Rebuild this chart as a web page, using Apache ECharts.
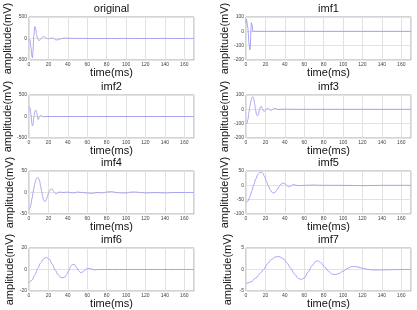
<!DOCTYPE html>
<html>
<head>
<meta charset="utf-8">
<script src="https://cdn.jsdelivr.net/npm/echarts@6/dist/echarts.min.js"></script>
<style>
  html, body { margin: 0; padding: 0; background: #fff; }
  #chart { width: 417px; height: 310px; }
</style>
</head>
<body>
<div id="chart"></div>
<script>
// [time(ms), amplitude(mV)]
const original = [[0,-10],[1,-30],[2,-200],[3,-420],[3.5,-450],[4,-320],[5,60],[6,280],[7,210],[8,70],[9,-10],[10,-45],[11,-40],[12,-10],[13,15],[14,35],[15,42],[16,38],[17,25],[18,10],[19,0],[20,-8],[22,5],[24,15],[26,0],[27,-30],[29,-35],[31,-20],[33,-5],[35,5],[38,10],[41,7],[45,3],[50,1],[60,2],[70,-2],[80,1],[90,0],[100,2],[110,-1],[120,1],[130,0],[140,2],[150,-1],[160,1],[170,0]];
const imf1 = [[0,60],[0.5,85],[1,80],[2,20],[3,-80],[4,-130],[4.5,-100],[5,0],[5.5,60],[6,70],[6.5,40],[7,0],[8,0],[170,0]];
const imf2 = [[0,230],[1,200],[2,50],[3,-170],[3.5,-220],[4,-200],[5,-20],[6,120],[7,150],[8,80],[9,-40],[9.5,-70],[10,-60],[11,0],[12,25],[13,10],[14,0],[16,-5],[18,0],[170,0]];
const imf3 = [[0,-100],[1,-98],[2,-70],[3,-20],[4,20],[5,55],[6,80],[7,88],[8,75],[9,35],[10,-10],[11,-40],[12,-46],[13,-30],[14,0],[15,18],[16,20],[17,5],[18,-10],[19,-15],[20,-8],[21,3],[22,7],[23,5],[24,0],[25,-6],[26,-7],[27,-3],[28,2],[29,6],[30,7],[31,5],[32,1],[33,-1],[35,0],[40,1],[50,0],[170,0]];
const imf4 = [[0,-39],[1,-36],[2,-28],[3,-15],[4,-2],[5,10],[6,21],[7,29],[8,34],[9,35],[10,33],[11,26],[12,15],[13,3],[14,-9],[15,-17],[16,-21],[17,-20],[18,-16],[19,-9],[20,-2],[21,3],[22,7],[23,8],[24,8],[25,5],[26,1],[27,-2],[28,-3],[29,-2],[30,0],[32,1],[35,0],[40,1],[45,-1],[50,1],[55,0],[60,-1],[65,-2],[70,0],[75,-1],[80,1],[85,2],[90,0],[95,-1],[100,-1],[105,1],[110,1],[115,0],[120,-1],[130,0],[140,-1],[150,0],[160,0],[170,0]];
const imf5 = [[0,-59],[2,-55],[4,-40],[6,-20],[8,2],[10,22],[12,37],[14,45],[15.5,46],[17,43],[19,32],[21,15],[23,-2],[25,-16],[27,-25],[28,-27],[30,-24],[32,-16],[34,-5],[36,4],[38,8],[40,6],[42,0],[44,-5],[46,-3],[48,2],[50,2],[52,0],[55,-1],[60,0],[70,1],[80,0],[100,0],[120,-1],[140,0],[170,0]];
const imf6 = [[0,-12.5],[3,-10],[6,-5],[9,1],[12,6],[15,10],[18,11.2],[21,9.5],[24,5],[27,-0.5],[30,-5],[33,-7.5],[35,-7.7],[37,-7],[39,-4.5],[41,-1],[43,3],[45,4.8],[47,4.5],[49,2],[51,-1],[53,-2.8],[55,-2.5],[57,-1],[59,0.5],[61,1],[63,0.8],[66,0],[68,-0.5],[71,0],[80,0],[170,0]];
const imf7 = [[0,-3.3],[5,-2.9],[10,-2],[15,-0.8],[18,0],[22,1.3],[26,2.3],[30,2.9],[34,3.0],[38,2.6],[42,1.6],[46,0.3],[50,-1.1],[54,-2.1],[57,-2.3],[60,-2.0],[64,-0.6],[68,0.9],[72,1.9],[74,2.0],[77,1.6],[81,0.6],[85,-0.4],[89,-1.1],[92,-1.2],[96,-0.9],[100,-0.4],[104,0.2],[108,0.6],[111,0.7],[115,0.6],[120,0.3],[125,0.05],[130,-0.1],[140,-0.1],[150,-0.05],[160,0],[170,0]];

const panelTitles = ['original', 'imf1', 'imf2', 'imf3', 'imf4', 'imf5', 'imf6', 'imf7'];
const panelData = [original, imf1, imf2, imf3, imf4, imf5, imf6, imf7];
const yMin = [-500, -200, -500, -200, -50, -100, -20, -5];
const yMax = [500, 100, 500, 100, 50, 50, 20, 5];
const yStep = [500, 100, 500, 100, 50, 50, 20, 5];
const xMax = 170, xStep = 20;

const colLeft = [29, 246];
const rowTop = [17, 95, 171, 248];
const plotW = 165, plotH = 43;
const FONT = '"Liberation Sans", Arial, sans-serif';
const LINE = '#9e9cf2';

const chart = echarts.init(document.getElementById('chart'), null, { renderer: 'canvas' });

const grid = [], xAxis = [], yAxis = [], series = [], graphic = [];
panelData.forEach((d, i) => {
  const left = colLeft[i % 2], top = rowTop[Math.floor(i / 2)];
  grid.push({ left, top, width: plotW, height: plotH, show: true, borderColor: '#a8a8a8', borderWidth: 1, backgroundColor: '#fff', outerBoundsMode: 'none' });
  xAxis.push({
    gridIndex: i, type: 'value', min: 0, max: xMax, interval: xStep,
    name: 'time(ms)', nameLocation: 'middle', nameGap: 6,
    nameTextStyle: { fontFamily: FONT, fontSize: 11, color: '#111', verticalAlign: 'top' },
    axisLine: { show: false }, axisTick: { show: false },
    axisLabel: { fontFamily: FONT, fontSize: 5, color: '#444', margin: 2, showMaxLabel: false },
    splitLine: { show: true, lineStyle: { color: '#e2e2e2', width: 1 } }
  });
  yAxis.push({
    gridIndex: i, type: 'value', min: yMin[i], max: yMax[i], interval: yStep[i],
    name: 'amplitude(mV)', nameLocation: 'middle', nameGap: 13, nameRotate: 90,
    nameTextStyle: { fontFamily: FONT, fontSize: 11, color: '#111' },
    axisLine: { show: false }, axisTick: { show: false },
    axisLabel: { fontFamily: FONT, fontSize: 5, color: '#444', margin: 2 },
    splitLine: { show: true, lineStyle: { color: '#e2e2e2', width: 1 } }
  });
  series.push({
    type: 'line', xAxisIndex: i, yAxisIndex: i, data: d,
    showSymbol: false, smooth: i === 1 ? false : 0.35, smoothMonotone: 'x',
    lineStyle: { color: LINE, width: 0.9 }, silent: true, animation: false
  });
  graphic.push({
    type: 'text', x: left + plotW / 2, y: top - 8, silent: true,
    style: { text: panelTitles[i], fill: '#111', font: '11px ' + FONT, align: 'center', verticalAlign: 'middle' }
  });
});

chart.setOption({ animation: false, grid, xAxis, yAxis, series, graphic });
</script>
</body>
</html>
